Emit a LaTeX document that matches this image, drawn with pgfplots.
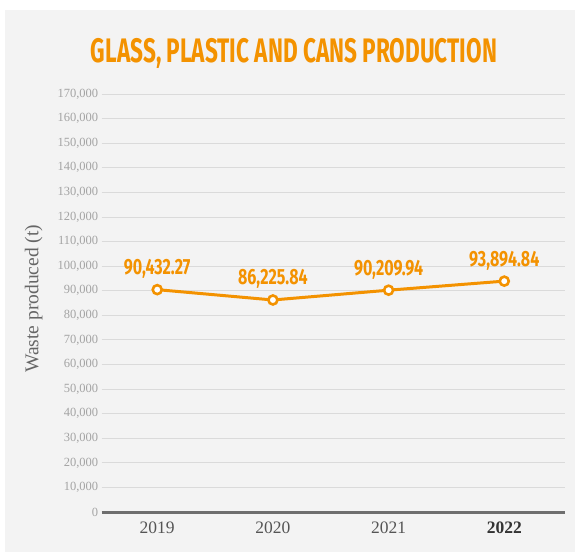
\documentclass[border=0pt]{standalone}
\usepackage{pgfplots}
\pgfplotsset{compat=1.18}
\usepackage{fontspec}
\setmainfont{Liberation Serif}
\newfontfamily\titlefont{Fira Sans}
\definecolor{orng}{HTML}{F39200}
\definecolor{panel}{HTML}{F3F3F3}
\definecolor{gridc}{HTML}{DADADA}
\definecolor{axisc}{HTML}{6E6E6E}
\definecolor{tickc}{HTML}{A3A3A3}
\definecolor{xlabc}{HTML}{555555}
\definecolor{xlabdark}{HTML}{333333}
\definecolor{ylabc}{HTML}{666666}
\begin{document}
\begin{tikzpicture}
\path[use as bounding box] (0,0) rectangle (575pt,552pt);
\fill[white] (0,0) rectangle (575pt,552pt);
\fill[panel] (5pt,0) rectangle (575pt,542pt);
\node[anchor=base, text=orng, inner sep=0pt] at (294pt,489.3pt)
  {\resizebox{406pt}{\height}{\titlefont\bfseries\fontsize{34}{34}\selectfont GLASS, PLASTIC AND CANS PRODUCTION}};
\begin{axis}[
  at={(101.7pt,40pt)}, anchor=south west,
  scale only axis, width=463.3pt, height=418pt,
  xmin=-0.48, xmax=3.525, ymin=0, ymax=170000,
  clip=false,
  ytick={0,10000,...,170000},
  xtick={0,1,2,3},
  xticklabels={2019,2020,2021,{\bfseries\color{xlabdark}2022}},
  scaled y ticks=false,
  /pgf/number format/fixed,
  /pgf/number format/precision=0,
  /pgf/number format/assume math mode=true,
  /pgf/number format/1000 sep={,},
  axis lines*=left,
  y axis line style={draw=none},
  x axis line style={draw=axisc, line width=3pt},
  tick style={draw=none},
  ymajorgrids,
  grid style={draw=gridc, line width=0.8pt},
  yticklabel style={font=\fontsize{12.5}{12.5}\selectfont, text=tickc},
  xticklabel style={font=\fontsize{17.5}{17.5}\selectfont, text=xlabc, yshift=-6pt},
  ylabel={Waste produced (t)},
  ylabel style={at={(axis description cs:-0.147,0.51)}, anchor=center,
    font=\fontsize{19.5}{19.5}\selectfont, text=ylabc},
]
\addplot[orng, line width=3pt, mark=*, mark size=4.5pt,
  mark options={fill=white, draw=orng, line width=2.6pt},
  nodes near coords={\scalebox{0.73}[1]{\pgfplotspointmeta}},
  point meta=explicit symbolic,
  nodes near coords style={anchor=base, yshift=15pt, inner sep=0pt,
    text=orng, font=\titlefont\bfseries\fontsize{22}{22}\selectfont},
] table[x=x, y=y, meta=lab] {
x y lab
0 90432.27 90,432.27
1 86225.84 86,225.84
2 90209.94 90,209.94
3 93894.84 93,894.84
};
\end{axis}
\end{tikzpicture}
\end{document}
